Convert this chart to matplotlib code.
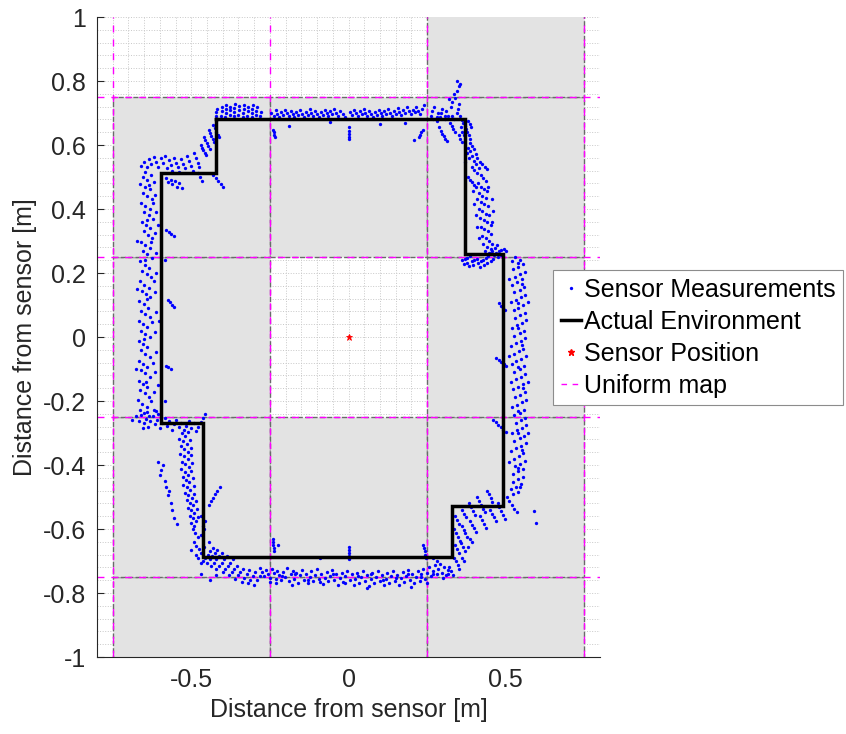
import matplotlib

matplotlib.use("Agg")
import matplotlib.pyplot as plt
import numpy as np
from matplotlib.lines import Line2D
from matplotlib.patches import Rectangle

plt.rcParams["font.family"] = ["Liberation Sans", "DejaVu Sans"]

# occupancy map cells (1 = occupied / shaded)
map_x_edges = [-0.75, -0.25, 0.25, 0.75]
map_y_edges = [-1.25, -0.75, -0.25, 0.25, 0.75, 1.25]
map_occupied = [  # rows from bottom to top, columns left to right
    [1, 1, 1],
    [1, 1, 1],
    [1, 0, 1],
    [1, 1, 1],
    [0, 0, 1],
]

# walls of the room around the sensor
env_x = [-0.42, -0.42, -0.595, -0.595, -0.462, -0.462, 0.33, 0.33, 0.49, 0.49, 0.372, 0.372, -0.42]
env_y = [0.68, 0.512, 0.512, -0.268, -0.268, -0.688, -0.688, -0.528, -0.528, 0.258, 0.258, 0.68, 0.68]

sensor_pos = (0.0, 0.0)

# range sensor returns, grouped by wall section
pts_top_left = [
    (-0.660, 0.535), (-0.650, 0.548), (-0.642, 0.530), (-0.636, 0.556), (-0.628, 0.540), (-0.620, 0.562),
    (-0.612, 0.548), (-0.606, 0.532), (-0.598, 0.558), (-0.590, 0.543), (-0.584, 0.566), (-0.578, 0.528),
    (-0.572, 0.552), (-0.566, 0.538), (-0.560, 0.520), (-0.556, 0.560), (-0.548, 0.545), (-0.542, 0.530),
    (-0.538, 0.515), (-0.532, 0.556), (-0.526, 0.540), (-0.520, 0.528), (-0.515, 0.566), (-0.508, 0.550),
    (-0.502, 0.536), (-0.496, 0.520), (-0.492, 0.574), (-0.486, 0.558), (-0.480, 0.544), (-0.476, 0.530),
    (-0.580, 0.498), (-0.574, 0.486), (-0.566, 0.492), (-0.560, 0.478), (-0.552, 0.488), (-0.546, 0.470),
    (-0.538, 0.482), (-0.530, 0.465), (-0.470, 0.600), (-0.466, 0.592), (-0.462, 0.584), (-0.458, 0.576),
    (-0.454, 0.568), (-0.460, 0.625), (-0.455, 0.615), (-0.450, 0.605), (-0.446, 0.596), (-0.442, 0.588),
    (-0.444, 0.648), (-0.440, 0.638), (-0.436, 0.628), (-0.432, 0.618), (-0.428, 0.608), (-0.432, 0.662),
    (-0.426, 0.652), (-0.421, 0.642), (-0.416, 0.632), (-0.412, 0.624), (-0.478, 0.512), (-0.472, 0.500),
    (-0.466, 0.488), (-0.430, 0.505), (-0.422, 0.496), (-0.414, 0.487), (-0.406, 0.478), (-0.398, 0.470),
]

pts_top = [
    (-0.420, 0.690), (-0.420, 0.702), (-0.419, 0.714), (-0.405, 0.692), (-0.404, 0.706), (-0.403, 0.719),
    (-0.392, 0.689), (-0.391, 0.700), (-0.390, 0.712), (-0.389, 0.724), (-0.378, 0.694), (-0.377, 0.708),
    (-0.376, 0.720), (-0.365, 0.690), (-0.364, 0.703), (-0.363, 0.716), (-0.362, 0.729), (-0.350, 0.695),
    (-0.349, 0.708), (-0.348, 0.721), (-0.336, 0.688), (-0.335, 0.700), (-0.334, 0.713), (-0.333, 0.726),
    (-0.322, 0.692), (-0.321, 0.705), (-0.320, 0.718), (-0.308, 0.688), (-0.307, 0.700), (-0.306, 0.712),
    (-0.305, 0.725), (-0.294, 0.694), (-0.293, 0.707), (-0.292, 0.719), (-0.280, 0.690), (-0.279, 0.703),
    (-0.245, 0.700), (-0.238, 0.692), (-0.232, 0.708), (-0.226, 0.696), (-0.220, 0.688), (-0.214, 0.703),
    (-0.208, 0.694), (-0.202, 0.710), (-0.196, 0.699), (-0.190, 0.690), (-0.184, 0.705), (-0.178, 0.697),
    (-0.172, 0.688), (-0.166, 0.702), (-0.160, 0.693), (-0.154, 0.709), (-0.148, 0.698), (-0.142, 0.689),
    (-0.136, 0.704), (-0.130, 0.695), (-0.124, 0.712), (-0.118, 0.700), (-0.112, 0.691), (-0.106, 0.706),
    (-0.100, 0.697), (-0.094, 0.688), (-0.088, 0.702), (-0.082, 0.694), (-0.076, 0.710), (-0.070, 0.699),
    (-0.064, 0.690), (-0.058, 0.705), (-0.052, 0.696), (-0.046, 0.714), (-0.040, 0.701), (-0.034, 0.692),
    (-0.028, 0.707), (-0.018, 0.698), (-0.012, 0.689), (0.006, 0.703), (0.012, 0.694), (0.018, 0.710),
    (0.024, 0.699), (0.030, 0.690), (0.036, 0.705), (0.042, 0.696), (0.048, 0.712), (0.054, 0.700),
    (0.060, 0.691), (0.066, 0.706), (0.072, 0.697), (0.078, 0.688), (0.084, 0.703), (0.090, 0.694),
    (0.096, 0.710), (0.102, 0.699), (0.108, 0.690), (0.114, 0.705), (0.120, 0.696), (0.126, 0.713),
    (0.132, 0.701), (0.138, 0.692), (0.144, 0.707), (0.150, 0.698), (0.156, 0.716), (0.162, 0.703),
    (0.168, 0.694), (0.174, 0.709), (0.180, 0.700), (0.186, 0.718), (0.192, 0.705), (0.198, 0.696),
    (0.204, 0.711), (0.210, 0.702), (0.216, 0.720), (0.222, 0.707), (0.228, 0.698), (0.234, 0.714),
    (0.240, 0.724), (-0.240, 0.648), (-0.238, 0.640), (-0.236, 0.632), (-0.234, 0.624), (-0.190, 0.660),
    (0.000, 0.655), (0.000, 0.645), (0.001, 0.635), (0.001, 0.625), (0.002, 0.618), (0.236, 0.648),
    (0.232, 0.640), (0.228, 0.632), (0.224, 0.624), (0.208, 0.615), (-0.060, 0.672), (0.100, 0.665),
    (0.180, 0.668),
]

pts_top_right = [
    (0.265, 0.705), (0.262, 0.692), (0.272, 0.718), (0.268, 0.680), (0.284, 0.700), (0.282, 0.688),
    (0.280, 0.676), (0.296, 0.712), (0.294, 0.700), (0.292, 0.688), (0.310, 0.705), (0.308, 0.692),
    (0.306, 0.680), (0.288, 0.655), (0.293, 0.645), (0.298, 0.636), (0.303, 0.628), (0.308, 0.620),
    (0.312, 0.612), (0.322, 0.670), (0.328, 0.660), (0.334, 0.650), (0.340, 0.640), (0.318, 0.690),
    (0.326, 0.720), (0.330, 0.735), (0.320, 0.745), (0.336, 0.758), (0.340, 0.748), (0.344, 0.770),
    (0.350, 0.785), (0.346, 0.800), (0.356, 0.790), (0.352, 0.728), (0.348, 0.712), (0.345, 0.700),
    (0.355, 0.690), (0.360, 0.678), (0.365, 0.668), (0.370, 0.660), (0.375, 0.650), (0.378, 0.640),
    (0.382, 0.630), (0.386, 0.618), (0.358, 0.655), (0.362, 0.642), (0.366, 0.630), (0.350, 0.630),
    (0.355, 0.620), (0.360, 0.610), (0.330, 0.690), (0.335, 0.680), (0.380, 0.675), (0.385, 0.665),
    (0.390, 0.655),
]

pts_right_upper = [
    (0.385, 0.605), (0.392, 0.598), (0.380, 0.592), (0.398, 0.588), (0.388, 0.580), (0.376, 0.574),
    (0.404, 0.572), (0.394, 0.565), (0.382, 0.560), (0.410, 0.558), (0.400, 0.550), (0.372, 0.548),
    (0.418, 0.548), (0.426, 0.540), (0.434, 0.532), (0.440, 0.525), (0.392, 0.530), (0.400, 0.522),
    (0.408, 0.514), (0.380, 0.500), (0.386, 0.492), (0.392, 0.484), (0.398, 0.476), (0.404, 0.468),
    (0.420, 0.505), (0.428, 0.496), (0.436, 0.488), (0.412, 0.480), (0.420, 0.470), (0.430, 0.462),
    (0.440, 0.455), (0.416, 0.450), (0.426, 0.442), (0.436, 0.436), (0.410, 0.430), (0.422, 0.422),
    (0.432, 0.415), (0.444, 0.408), (0.414, 0.400), (0.426, 0.394), (0.438, 0.386), (0.448, 0.380),
    (0.418, 0.372), (0.430, 0.365), (0.442, 0.358), (0.452, 0.350), (0.420, 0.345), (0.432, 0.338),
    (0.444, 0.330), (0.454, 0.322), (0.424, 0.315), (0.436, 0.308), (0.448, 0.300), (0.458, 0.292),
    (0.428, 0.290), (0.440, 0.282), (0.452, 0.275), (0.434, 0.270), (0.446, 0.262), (0.405, 0.540),
    (0.415, 0.528), (0.395, 0.455), (0.400, 0.415), (0.405, 0.380), (0.410, 0.345), (0.415, 0.310),
    (0.445, 0.470), (0.455, 0.430), (0.460, 0.395), (0.458, 0.360),
]

pts_right_step = [
    (0.362, 0.240), (0.370, 0.244), (0.378, 0.248), (0.386, 0.252), (0.368, 0.228), (0.376, 0.232),
    (0.392, 0.236), (0.400, 0.240), (0.408, 0.245), (0.384, 0.222), (0.395, 0.226), (0.412, 0.230),
    (0.420, 0.236), (0.428, 0.242), (0.436, 0.248), (0.444, 0.254), (0.418, 0.220), (0.430, 0.225),
    (0.440, 0.232), (0.452, 0.238), (0.460, 0.244), (0.450, 0.262), (0.458, 0.270), (0.466, 0.278),
    (0.472, 0.286), (0.462, 0.256), (0.470, 0.262), (0.478, 0.268), (0.486, 0.272), (0.494, 0.276),
    (0.500, 0.270), (0.476, 0.250), (0.484, 0.255), (0.490, 0.246),
]

pts_right = [
    (0.530, 0.250), (0.545, 0.242), (0.520, 0.236), (0.556, 0.228), (0.538, 0.220), (0.524, 0.212),
    (0.560, 0.204), (0.546, 0.196), (0.530, 0.188), (0.552, 0.180), (0.536, 0.172), (0.520, 0.164),
    (0.558, 0.156), (0.544, 0.148), (0.528, 0.140), (0.562, 0.132), (0.548, 0.124), (0.532, 0.116),
    (0.516, 0.108), (0.554, 0.100), (0.540, 0.092), (0.526, 0.084), (0.560, 0.076), (0.546, 0.068),
    (0.530, 0.060), (0.566, 0.052), (0.552, 0.044), (0.536, 0.036), (0.520, 0.028), (0.558, 0.020),
    (0.544, 0.012), (0.528, 0.004), (0.562, -0.004), (0.548, -0.012), (0.534, -0.020), (0.518, -0.028),
    (0.556, -0.036), (0.542, -0.044), (0.526, -0.052), (0.564, -0.060), (0.550, -0.068), (0.534, -0.076),
    (0.520, -0.084), (0.558, -0.092), (0.544, -0.100), (0.528, -0.108), (0.562, -0.116), (0.548, -0.124),
    (0.532, -0.132), (0.516, -0.140), (0.554, -0.148), (0.540, -0.156), (0.524, -0.164), (0.560, -0.172),
    (0.546, -0.180), (0.530, -0.188), (0.566, -0.196), (0.552, -0.204), (0.536, -0.212), (0.520, -0.220),
    (0.558, -0.228), (0.544, -0.236), (0.528, -0.244), (0.562, -0.252), (0.548, -0.260), (0.532, -0.268),
    (0.566, -0.276), (0.552, -0.284), (0.536, -0.292), (0.520, -0.300), (0.558, -0.308), (0.544, -0.316),
    (0.528, -0.324), (0.564, -0.332), (0.550, -0.340), (0.534, -0.348), (0.518, -0.356), (0.556, -0.364),
    (0.542, -0.372), (0.526, -0.380), (0.560, -0.388), (0.546, -0.396), (0.530, -0.404), (0.554, -0.412),
    (0.538, -0.420), (0.522, -0.428), (0.556, -0.436), (0.540, -0.444), (0.524, -0.452), (0.548, -0.460),
    (0.532, -0.468), (0.516, -0.476), (0.540, -0.484), (0.524, -0.492), (0.538, 0.232), (0.552, 0.165),
    (0.538, 0.105), (0.540, 0.028), (0.552, -0.024), (0.538, -0.095), (0.554, -0.160), (0.538, -0.230),
    (0.540, -0.300), (0.552, -0.352), (0.538, -0.410), (0.546, -0.470), (0.570, 0.110), (0.572, -0.140),
    (0.572, -0.300), (0.512, 0.180), (0.512, -0.060), (0.512, -0.390), (0.480, 0.105), (0.486, 0.098),
    (0.492, 0.091), (0.498, 0.085), (0.470, -0.065), (0.478, -0.072), (0.486, -0.078), (0.494, -0.084),
    (0.502, -0.090), (0.460, -0.258), (0.468, -0.266), (0.476, -0.274), (0.484, -0.282), (0.492, -0.290),
    (0.500, -0.298),
]

pts_bottom_right = [
    (0.340, -0.560), (0.346, -0.572), (0.352, -0.584), (0.335, -0.600), (0.342, -0.612), (0.348, -0.624),
    (0.354, -0.636), (0.338, -0.650), (0.344, -0.662), (0.350, -0.674), (0.336, -0.690), (0.342, -0.700),
    (0.348, -0.712), (0.352, -0.724), (0.362, -0.540), (0.368, -0.552), (0.374, -0.564), (0.360, -0.590),
    (0.366, -0.602), (0.372, -0.614), (0.378, -0.626), (0.358, -0.645), (0.364, -0.656), (0.370, -0.668),
    (0.362, -0.690), (0.368, -0.700), (0.384, -0.520), (0.390, -0.532), (0.396, -0.544), (0.402, -0.556),
    (0.386, -0.575), (0.392, -0.586), (0.398, -0.598), (0.404, -0.610), (0.388, -0.630), (0.394, -0.640),
    (0.380, -0.655), (0.410, -0.500), (0.416, -0.512), (0.422, -0.524), (0.428, -0.536), (0.434, -0.548),
    (0.418, -0.560), (0.424, -0.572), (0.430, -0.584), (0.436, -0.596), (0.440, -0.480), (0.446, -0.492),
    (0.452, -0.504), (0.458, -0.516), (0.450, -0.540), (0.456, -0.552), (0.462, -0.564), (0.468, -0.576),
    (0.474, -0.520), (0.480, -0.532), (0.486, -0.544), (0.492, -0.556), (0.498, -0.568), (0.505, -0.500),
    (0.512, -0.512), (0.520, -0.524), (0.528, -0.536), (0.535, -0.548), (0.590, -0.545), (0.596, -0.580),
    (0.320, -0.720), (0.326, -0.732), (0.332, -0.744), (0.315, -0.740),
]

pts_bottom = [
    (-0.280, -0.722), (-0.274, -0.735), (-0.268, -0.748), (-0.262, -0.728), (-0.256, -0.740), (-0.250, -0.752),
    (-0.244, -0.725), (-0.238, -0.738), (-0.232, -0.755), (-0.226, -0.730), (-0.220, -0.745), (-0.214, -0.760),
    (-0.208, -0.735), (-0.202, -0.750), (-0.196, -0.722), (-0.190, -0.762), (-0.184, -0.742), (-0.178, -0.730),
    (-0.172, -0.755), (-0.166, -0.738), (-0.160, -0.768), (-0.154, -0.745), (-0.148, -0.728), (-0.142, -0.758),
    (-0.136, -0.740), (-0.130, -0.770), (-0.124, -0.750), (-0.118, -0.732), (-0.112, -0.762), (-0.106, -0.745),
    (-0.100, -0.725), (-0.094, -0.756), (-0.088, -0.740), (-0.082, -0.772), (-0.076, -0.752), (-0.070, -0.735),
    (-0.064, -0.764), (-0.058, -0.746), (-0.052, -0.728), (-0.046, -0.758), (-0.040, -0.740), (-0.034, -0.775),
    (-0.028, -0.752), (-0.022, -0.736), (-0.016, -0.766), (-0.010, -0.748), (-0.004, -0.730), (0.004, -0.760),
    (0.010, -0.742), (0.016, -0.776), (0.022, -0.755), (0.028, -0.738), (0.034, -0.768), (0.040, -0.750),
    (0.046, -0.732), (0.052, -0.762), (0.058, -0.744), (0.064, -0.778), (0.070, -0.756), (0.076, -0.738),
    (0.082, -0.770), (0.088, -0.750), (0.094, -0.732), (0.100, -0.764), (0.106, -0.745), (0.112, -0.775),
    (0.118, -0.755), (0.124, -0.736), (0.130, -0.768), (0.136, -0.748), (0.142, -0.730), (0.148, -0.762),
    (0.154, -0.744), (0.160, -0.776), (0.166, -0.754), (0.172, -0.735), (0.178, -0.766), (0.184, -0.746),
    (0.190, -0.728), (0.196, -0.758), (0.202, -0.740), (0.208, -0.770), (0.214, -0.750), (0.220, -0.732),
    (0.226, -0.762), (0.232, -0.742), (0.238, -0.724), (0.244, -0.755), (0.250, -0.736), (0.256, -0.718),
    (0.262, -0.748), (0.268, -0.730), (0.274, -0.712), (0.280, -0.742), (0.286, -0.725), (0.292, -0.708),
    (0.298, -0.736), (0.304, -0.720), (0.310, -0.745), (0.316, -0.728), (-0.250, -0.765), (-0.210, -0.748),
    (-0.170, -0.742), (-0.130, -0.758), (-0.090, -0.765), (-0.050, -0.742), (-0.010, -0.770), (0.030, -0.746),
    (0.070, -0.742), (0.110, -0.760), (0.150, -0.752), (0.190, -0.742), (0.230, -0.750), (0.270, -0.740),
    (0.300, -0.752), (-0.180, -0.775), (0.060, -0.785), (0.200, -0.780), (-0.230, -0.770), (0.250, -0.770),
    (-0.240, -0.630), (-0.240, -0.640), (-0.239, -0.650), (-0.238, -0.660), (-0.238, -0.670), (-0.225, -0.650),
    (-0.090, -0.690), (0.000, -0.655), (0.000, -0.665), (0.000, -0.675), (0.000, -0.685), (0.001, -0.695),
    (0.238, -0.650), (0.240, -0.660), (0.242, -0.670), (0.244, -0.680), (0.246, -0.690), (0.280, -0.700),
    (0.270, -0.690),
]

pts_bottom_left = [
    (-0.495, -0.600), (-0.488, -0.612), (-0.480, -0.625), (-0.492, -0.640), (-0.484, -0.652), (-0.476, -0.664),
    (-0.470, -0.676), (-0.486, -0.680), (-0.478, -0.692), (-0.470, -0.705), (-0.462, -0.700), (-0.455, -0.690),
    (-0.448, -0.680), (-0.440, -0.670), (-0.432, -0.660), (-0.450, -0.705), (-0.442, -0.695), (-0.434, -0.685),
    (-0.426, -0.675), (-0.418, -0.665), (-0.436, -0.715), (-0.428, -0.705), (-0.420, -0.695), (-0.412, -0.685),
    (-0.404, -0.675), (-0.420, -0.725), (-0.412, -0.715), (-0.404, -0.705), (-0.396, -0.695), (-0.388, -0.685),
    (-0.400, -0.735), (-0.392, -0.725), (-0.384, -0.715), (-0.376, -0.705), (-0.368, -0.695), (-0.380, -0.745),
    (-0.372, -0.735), (-0.364, -0.725), (-0.356, -0.715), (-0.360, -0.755), (-0.352, -0.745), (-0.344, -0.735),
    (-0.336, -0.725), (-0.340, -0.765), (-0.332, -0.752), (-0.324, -0.740), (-0.316, -0.728), (-0.320, -0.770),
    (-0.312, -0.758), (-0.304, -0.746), (-0.296, -0.734), (-0.300, -0.775), (-0.290, -0.760), (-0.282, -0.748),
    (-0.470, -0.740), (-0.440, -0.760), (-0.420, -0.745), (-0.500, -0.665), (-0.460, -0.655), (-0.445, -0.640),
]

pts_left_lower = [
    (-0.530, -0.300), (-0.520, -0.308), (-0.512, -0.296), (-0.538, -0.318), (-0.526, -0.326), (-0.515, -0.334),
    (-0.505, -0.322), (-0.532, -0.342), (-0.522, -0.350), (-0.510, -0.358), (-0.500, -0.346), (-0.535, -0.365),
    (-0.524, -0.373), (-0.512, -0.381), (-0.502, -0.370), (-0.530, -0.390), (-0.519, -0.398), (-0.508, -0.406),
    (-0.498, -0.394), (-0.532, -0.414), (-0.521, -0.422), (-0.510, -0.430), (-0.500, -0.418), (-0.528, -0.438),
    (-0.517, -0.446), (-0.506, -0.454), (-0.496, -0.442), (-0.525, -0.462), (-0.514, -0.470), (-0.503, -0.478),
    (-0.493, -0.466), (-0.520, -0.486), (-0.510, -0.494), (-0.499, -0.502), (-0.490, -0.490), (-0.515, -0.510),
    (-0.505, -0.518), (-0.495, -0.526), (-0.486, -0.514), (-0.510, -0.534), (-0.500, -0.542), (-0.490, -0.550),
    (-0.482, -0.538), (-0.505, -0.558), (-0.495, -0.566), (-0.485, -0.574), (-0.478, -0.562), (-0.500, -0.582),
    (-0.490, -0.590), (-0.606, -0.390), (-0.590, -0.400), (-0.600, -0.430), (-0.585, -0.450), (-0.580, -0.470),
    (-0.575, -0.495), (-0.565, -0.520), (-0.560, -0.540), (-0.555, -0.565), (-0.545, -0.585), (-0.596, -0.415),
    (-0.570, -0.480), (-0.445, -0.525), (-0.438, -0.514), (-0.431, -0.503), (-0.424, -0.492), (-0.417, -0.481),
    (-0.410, -0.470), (-0.468, -0.560), (-0.462, -0.590), (-0.470, -0.620), (-0.460, -0.600), (-0.455, -0.575),
]

pts_left_step = [
    (-0.688, -0.258), (-0.676, -0.248), (-0.668, -0.262), (-0.660, -0.245), (-0.652, -0.270), (-0.645, -0.255),
    (-0.638, -0.280), (-0.630, -0.262), (-0.622, -0.248), (-0.615, -0.272), (-0.608, -0.258), (-0.600, -0.285),
    (-0.592, -0.268), (-0.585, -0.252), (-0.578, -0.278), (-0.570, -0.262), (-0.562, -0.290), (-0.555, -0.272),
    (-0.548, -0.258), (-0.540, -0.282), (-0.532, -0.268), (-0.524, -0.292), (-0.516, -0.278), (-0.508, -0.262),
    (-0.500, -0.285), (-0.492, -0.270), (-0.485, -0.295), (-0.478, -0.280), (-0.470, -0.265), (-0.462, -0.252),
    (-0.455, -0.240), (-0.640, -0.235), (-0.620, -0.228), (-0.605, -0.240), (-0.655, -0.285),
]

pts_left = [
    (-0.655, 0.500), (-0.640, 0.492), (-0.628, 0.505), (-0.662, 0.478), (-0.648, 0.470), (-0.632, 0.462),
    (-0.618, 0.485), (-0.655, 0.450), (-0.640, 0.440), (-0.625, 0.430), (-0.660, 0.420), (-0.646, 0.410),
    (-0.632, 0.400), (-0.615, 0.445), (-0.650, 0.390), (-0.636, 0.380), (-0.622, 0.370), (-0.658, 0.360),
    (-0.644, 0.350), (-0.630, 0.340), (-0.612, 0.392), (-0.652, 0.330), (-0.638, 0.320), (-0.624, 0.310),
    (-0.660, 0.298), (-0.646, 0.288), (-0.632, 0.278), (-0.616, 0.325), (-0.654, 0.268), (-0.640, 0.258),
    (-0.626, 0.248), (-0.662, 0.236), (-0.648, 0.226), (-0.634, 0.216), (-0.614, 0.262), (-0.656, 0.206),
    (-0.642, 0.196), (-0.628, 0.186), (-0.664, 0.174), (-0.650, 0.164), (-0.636, 0.154), (-0.612, 0.200),
    (-0.658, 0.144), (-0.644, 0.134), (-0.630, 0.124), (-0.666, 0.112), (-0.652, 0.102), (-0.638, 0.092),
    (-0.616, 0.140), (-0.660, 0.082), (-0.646, 0.072), (-0.632, 0.062), (-0.668, 0.050), (-0.654, 0.040),
    (-0.640, 0.030), (-0.614, 0.078), (-0.660, 0.020), (-0.646, 0.010), (-0.632, 0.000), (-0.668, -0.012),
    (-0.654, -0.022), (-0.640, -0.032), (-0.616, 0.015), (-0.660, -0.042), (-0.646, -0.052), (-0.632, -0.062),
    (-0.668, -0.074), (-0.654, -0.084), (-0.640, -0.094), (-0.614, -0.048), (-0.660, -0.104), (-0.646, -0.114),
    (-0.632, -0.124), (-0.668, -0.136), (-0.654, -0.146), (-0.640, -0.156), (-0.616, -0.110), (-0.662, -0.166),
    (-0.648, -0.176), (-0.634, -0.186), (-0.670, -0.198), (-0.656, -0.208), (-0.642, -0.218), (-0.618, -0.172),
    (-0.664, -0.228), (-0.650, -0.238), (-0.636, -0.246), (-0.612, -0.230), (-0.648, 0.515), (-0.636, 0.475),
    (-0.622, 0.418), (-0.642, 0.365), (-0.628, 0.298), (-0.648, 0.242), (-0.620, 0.176), (-0.640, 0.118),
    (-0.626, 0.046), (-0.650, -0.005), (-0.622, -0.080), (-0.644, -0.140), (-0.628, -0.200), (-0.672, 0.300),
    (-0.674, 0.150), (-0.676, -0.100), (-0.606, 0.350), (-0.604, 0.050), (-0.606, -0.150), (-0.580, 0.335),
    (-0.572, 0.328), (-0.564, 0.322), (-0.556, 0.316), (-0.575, 0.115), (-0.568, 0.108), (-0.561, 0.101),
    (-0.554, 0.095), (-0.580, -0.090), (-0.573, -0.095), (-0.566, -0.100), (-0.584, 0.240), (-0.585, -0.200),
]

measurements = np.array(
    pts_top_left + pts_top + pts_top_right + pts_right_upper + pts_right_step + pts_right
    + pts_bottom_right + pts_bottom + pts_bottom_left + pts_left_lower + pts_left_step + pts_left
)

fig = plt.figure(figsize=(8.46, 7.34), dpi=100)
ax = fig.add_axes([0.1147, 0.1049, 0.5945, 0.8719])

# shaded cells of the uniform map
for i, row in enumerate(map_occupied):
    for j, occ in enumerate(row):
        if occ:
            x0, x1 = map_x_edges[j], map_x_edges[j + 1]
            y0, y1 = map_y_edges[i], map_y_edges[i + 1]
            ax.add_patch(Rectangle((x0, y0), x1 - x0, y1 - y0, facecolor="#e3e3e3",
                                   edgecolor="#6a6a6a", linestyle="--", linewidth=1.0, zorder=1))

for xv in map_x_edges:
    ax.axvline(xv, color="#ff00ff", linestyle=(0, (5, 5)), linewidth=1.0, zorder=1.5)
for yv in map_y_edges[1:-1]:
    ax.axhline(yv, color="#ff00ff", linestyle=(0, (5, 5)), linewidth=1.0, zorder=1.5)

ax.plot(measurements[:, 0], measurements[:, 1], linestyle="none", marker="o",
        markersize=2.4, color="#0000ff", markeredgewidth=0, zorder=2)
ax.plot(env_x, env_y, color="black", linewidth=2.5, zorder=3, solid_joinstyle="miter")
ax.plot(*sensor_pos, marker="*", color="red", markersize=5, markeredgewidth=0.6, zorder=4)

ax.set_xlim(-0.8, 0.8)
ax.set_ylim(-1, 1)
ax.set_xticks([-0.5, 0, 0.5])
ax.set_xticklabels(["-0.5", "0", "0.5"])
yt = np.round(np.arange(-1, 1.01, 0.2), 1)
ax.set_yticks(yt)
ax.set_yticklabels(["{:g}".format(v) if v != 0 else "0" for v in yt])
ax.set_xticks(np.arange(-0.8, 0.801, 0.05), minor=True)
ax.set_yticks(np.arange(-1, 1.001, 0.04), minor=True)
ax.tick_params(which="major", direction="in", length=5, labelsize=18, colors="#262626", pad=8)
ax.tick_params(which="minor", length=0)
ax.grid(which="both", linestyle=":", color="#c8c8c8", linewidth=0.7)
ax.set_axisbelow(True)

for side in ["top", "right"]:
    ax.spines[side].set_visible(False)
for side in ["left", "bottom"]:
    ax.spines[side].set_color("#262626")
    ax.spines[side].set_linewidth(0.8)

ax.set_xlabel("Distance from sensor [m]", fontsize=18, color="#262626", labelpad=4)
ax.set_ylabel("Distance from sensor [m]", fontsize=18, color="#262626", labelpad=4)

handles = [
    Line2D([], [], linestyle="none", marker="o", markersize=2.4, color="#0000ff", markeredgewidth=0),
    Line2D([], [], color="black", linewidth=2.5),
    Line2D([], [], linestyle="none", marker="*", markersize=5, color="red"),
    Line2D([], [], color="#ff00ff", linestyle=(0, (4, 4)), linewidth=1.0),
]
labels = ["Sensor Measurements", "Actual Environment", "Sensor Position", "Uniform map"]
leg = fig.legend(handles, labels, loc="upper left", bbox_to_anchor=(0.6537, 0.632), fontsize=18,
                 frameon=True, fancybox=False, edgecolor="#8c8c8c", framealpha=1,
                 handlelength=0.8, handletextpad=0.15, borderpad=0.3, labelspacing=0.32,
                 borderaxespad=0)
leg.get_frame().set_linewidth(0.8)

fig.savefig("out.png", dpi=100)
